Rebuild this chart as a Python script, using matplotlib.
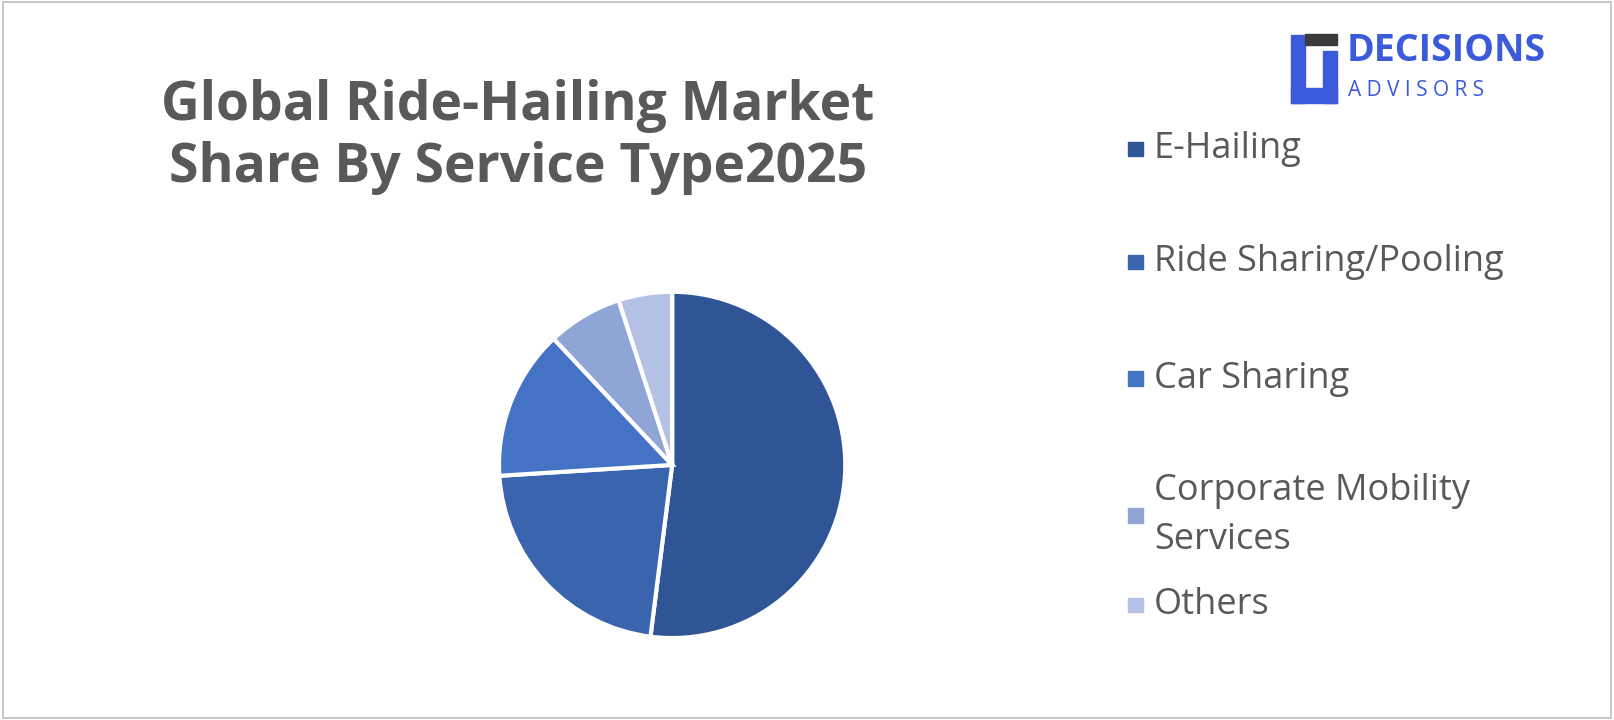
import matplotlib
matplotlib.use("Agg")
import matplotlib.pyplot as plt
from matplotlib.patches import Rectangle

categories = ["E-Hailing", "Ride Sharing/Pooling", "Car Sharing", "Corporate Mobility\nServices", "Others"]
values = [52, 22, 14, 7, 5]
colors = ["#2F5597", "#3A65AE", "#4472C4", "#8FA5D6", "#B4C0E4"]

W, H = 1568, 700  # reference coordinate frame
fig = plt.figure(figsize=(16.14, 7.2), dpi=100)
fig.patches.append(Rectangle((0.002, 0.003), 0.996, 0.994, transform=fig.transFigure,
                             fill=False, edgecolor="#BFBFBF", lw=1.2))

r = 170
ax = fig.add_axes([(653 - r)/W, 1 - (452 + r)/H, 2*r/W, 2*r/H])
ax.pie(values, colors=colors, startangle=90, counterclock=False,
       wedgeprops=dict(edgecolor="white", linewidth=3))
ax.set_xlim(-1.01, 1.01)
ax.set_ylim(-1.01, 1.01)
ax.set_aspect("equal")

fig.text(503/W, 1 - 133/H, "Global Ride-Hailing Market\nShare By Service Type2025",
         ha="center", va="center", fontsize=38.5, fontweight="bold", color="#595959",
         family="Open Sans", linespacing=1.2)

ys = [145, 255, 368, 501, 588]
for lab, c, y in zip(categories, colors, ys):
    sq = 14
    fig.patches.append(Rectangle((1096/W, 1 - (y + sq/2)/H), sq/W, sq/H,
                                 transform=fig.transFigure, color=c))
    fig.text(1121/W, 1 - y/H, lab, ha="left", va="center", fontsize=26,
             color="#595959", family="Open Sans", linespacing=1.5)

# logo
fig.text(1308/W, 1 - 50/H, "DECISIONS", ha="left", va="center", fontsize=27,
         fontweight="bold", color="#3B5BDB", family="Open Sans")
fig.text(1310/W, 1 - 88/H, "A D V I S O R S", ha="left", va="center", fontsize=15,
         color="#3B5BDB", family="Open Sans")
fig.patches.append(Rectangle((1254/W, 1 - 100/H), 14/W, 66/H, transform=fig.transFigure,
                             color="#3B5BDB"))
fig.patches.append(Rectangle((1254/W, 1 - 100/H), 45/W, 14/H, transform=fig.transFigure,
                             color="#3B5BDB"))
fig.patches.append(Rectangle((1285/W, 1 - 100/H), 14/W, 50/H, transform=fig.transFigure,
                             color="#3B5BDB"))
fig.patches.append(Rectangle((1268/W, 1 - 44/H), 31/W, 11/H, transform=fig.transFigure,
                             color="#3A3A3A"))

fig.savefig("out.png", dpi=100, facecolor="white")
